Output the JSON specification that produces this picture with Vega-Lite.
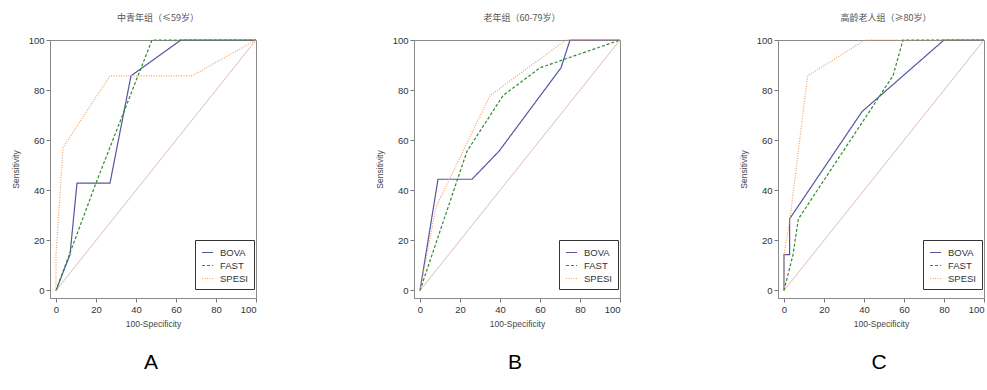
{
  "$schema": "https://vega.github.io/schema/vega-lite/v6.json",
  "padding": {"left": 10, "top": 13, "right": 0, "bottom": 0},
  "background": "white",
  "config": {
    "font": "Liberation Sans",
    "view": {"stroke": "#8a8a8a", "strokeWidth": 1},
    "axis": {
      "grid": false,
      "domainColor": "#8a8a8a",
      "tickColor": "#777777",
      "tickSize": 4,
      "labelFont": "Liberation Sans",
      "labelFontSize": 9.5,
      "labelColor": "#333333",
      "labelPadding": 2,
      "labelOverlap": false,
      "titleFont": "Liberation Sans",
      "titleFontSize": 8.5,
      "titleFontWeight": "normal",
      "titleColor": "#444444"
    },
    "legend": {
      "orient": "none",
      "legendX": 145,
      "legendY": 200,
      "strokeColor": "#333333",
      "padding": 6,
      "symbolType": "stroke",
      "symbolSize": 121,
      "symbolStrokeWidth": 1.2,
      "labelFont": "Liberation Sans",
      "labelFontSize": 9.5,
      "labelColor": "#333333",
      "labelOffset": 6,
      "rowPadding": 2,
      "title": null
    },
    "title": {"font": "Noto Sans CJK SC", "fontSize": 9, "fontWeight": "normal", "color": "#555555", "anchor": "middle", "frame": "group", "dx": 5, "offset": 12}
  },
  "datasets": {
    "diag": [{"fpr": 0, "sens": 0}, {"fpr": 100, "sens": 100}],
    "roc": [
      {"panel": "A", "method": "BOVA", "ord": 1, "fpr": 0, "sens": 0},
      {"panel": "A", "method": "BOVA", "ord": 2, "fpr": 7, "sens": 14.3},
      {"panel": "A", "method": "BOVA", "ord": 3, "fpr": 10.5, "sens": 42.9},
      {"panel": "A", "method": "BOVA", "ord": 4, "fpr": 27, "sens": 42.9},
      {"panel": "A", "method": "BOVA", "ord": 5, "fpr": 37.5, "sens": 85.7},
      {"panel": "A", "method": "BOVA", "ord": 6, "fpr": 62.5, "sens": 100},
      {"panel": "A", "method": "BOVA", "ord": 7, "fpr": 100, "sens": 100},
      {"panel": "A", "method": "FAST", "ord": 1, "fpr": 0, "sens": 0},
      {"panel": "A", "method": "FAST", "ord": 2, "fpr": 20, "sens": 42.9},
      {"panel": "A", "method": "FAST", "ord": 3, "fpr": 48, "sens": 100},
      {"panel": "A", "method": "FAST", "ord": 4, "fpr": 100, "sens": 100},
      {"panel": "A", "method": "SPESI", "ord": 1, "fpr": 0, "sens": 0},
      {"panel": "A", "method": "SPESI", "ord": 2, "fpr": 0, "sens": 14.3},
      {"panel": "A", "method": "SPESI", "ord": 3, "fpr": 3.5, "sens": 57.1},
      {"panel": "A", "method": "SPESI", "ord": 4, "fpr": 27, "sens": 85.7},
      {"panel": "A", "method": "SPESI", "ord": 5, "fpr": 68, "sens": 85.7},
      {"panel": "A", "method": "SPESI", "ord": 6, "fpr": 100, "sens": 100},
      {"panel": "B", "method": "BOVA", "ord": 1, "fpr": 0, "sens": 0},
      {"panel": "B", "method": "BOVA", "ord": 2, "fpr": 9, "sens": 44.4},
      {"panel": "B", "method": "BOVA", "ord": 3, "fpr": 26, "sens": 44.4},
      {"panel": "B", "method": "BOVA", "ord": 4, "fpr": 39.5, "sens": 55.6},
      {"panel": "B", "method": "BOVA", "ord": 5, "fpr": 70.5, "sens": 88.9},
      {"panel": "B", "method": "BOVA", "ord": 6, "fpr": 75, "sens": 100},
      {"panel": "B", "method": "BOVA", "ord": 7, "fpr": 100, "sens": 100},
      {"panel": "B", "method": "FAST", "ord": 1, "fpr": 0, "sens": 0},
      {"panel": "B", "method": "FAST", "ord": 2, "fpr": 23.5, "sens": 55.6},
      {"panel": "B", "method": "FAST", "ord": 3, "fpr": 41.5, "sens": 77.8},
      {"panel": "B", "method": "FAST", "ord": 4, "fpr": 60, "sens": 88.9},
      {"panel": "B", "method": "FAST", "ord": 5, "fpr": 100, "sens": 100},
      {"panel": "B", "method": "SPESI", "ord": 1, "fpr": 0, "sens": 0},
      {"panel": "B", "method": "SPESI", "ord": 2, "fpr": 8, "sens": 33.3},
      {"panel": "B", "method": "SPESI", "ord": 3, "fpr": 35, "sens": 77.8},
      {"panel": "B", "method": "SPESI", "ord": 4, "fpr": 73, "sens": 100},
      {"panel": "B", "method": "SPESI", "ord": 5, "fpr": 100, "sens": 100},
      {"panel": "C", "method": "BOVA", "ord": 1, "fpr": 0, "sens": 0},
      {"panel": "C", "method": "BOVA", "ord": 2, "fpr": 0, "sens": 14.3},
      {"panel": "C", "method": "BOVA", "ord": 3, "fpr": 2.8, "sens": 14.3},
      {"panel": "C", "method": "BOVA", "ord": 4, "fpr": 2.8, "sens": 28.6},
      {"panel": "C", "method": "BOVA", "ord": 5, "fpr": 39, "sens": 71.4},
      {"panel": "C", "method": "BOVA", "ord": 6, "fpr": 80, "sens": 100},
      {"panel": "C", "method": "BOVA", "ord": 7, "fpr": 100, "sens": 100},
      {"panel": "C", "method": "FAST", "ord": 1, "fpr": 0, "sens": 0},
      {"panel": "C", "method": "FAST", "ord": 2, "fpr": 4.5, "sens": 14.3},
      {"panel": "C", "method": "FAST", "ord": 3, "fpr": 7.2, "sens": 28.6},
      {"panel": "C", "method": "FAST", "ord": 4, "fpr": 54.5, "sens": 85.7},
      {"panel": "C", "method": "FAST", "ord": 5, "fpr": 59.5, "sens": 100},
      {"panel": "C", "method": "FAST", "ord": 6, "fpr": 100, "sens": 100},
      {"panel": "C", "method": "SPESI", "ord": 1, "fpr": 0, "sens": 0},
      {"panel": "C", "method": "SPESI", "ord": 2, "fpr": 0, "sens": 14.3},
      {"panel": "C", "method": "SPESI", "ord": 3, "fpr": 3, "sens": 28.6},
      {"panel": "C", "method": "SPESI", "ord": 4, "fpr": 11.8, "sens": 85.7},
      {"panel": "C", "method": "SPESI", "ord": 5, "fpr": 40.5, "sens": 100},
      {"panel": "C", "method": "SPESI", "ord": 6, "fpr": 100, "sens": 100}
    ]
  },
  "spacing": 115,
  "resolve": {
    "scale": {"color": "independent", "strokeDash": "independent", "x": "independent", "y": "independent"},
    "legend": {"color": "independent", "strokeDash": "independent"}
  },
  "hconcat": [
    {
      "title": {"text": "A", "orient": "bottom", "font": "Liberation Sans", "fontSize": 21, "color": "#000000", "offset": 23, "dx": 101},
      "resolve": {"scale": {"color": "independent", "strokeDash": "independent"}, "legend": {"color": "independent", "strokeDash": "independent"}},
      "vconcat": [
        {
          "title": {"text": "中青年组（≤59岁）"},
          "width": 206,
          "height": 258,
          "layer": [
            {
              "data": {"name": "diag"},
              "mark": {"type": "line", "color": "#dcbcbc", "strokeWidth": 1},
              "encoding": {
                "x": {"field": "fpr", "type": "quantitative", "scale": {"domain": [-3, 100], "nice": false, "zero": false}, "axis": {"title": "100-Specificity", "values": [0,5,10,15,20,25,30,35,40,45,50,55,60,65,70,75,80,85,90,95,100], "labelExpr": "datum.value % 20 === 0 ? datum.label : ''", "titlePadding": 6}},
                "y": {"field": "sens", "type": "quantitative", "scale": {"domain": [-3, 100], "nice": false, "zero": false}, "axis": {"title": "Sensitivity", "values": [0,5,10,15,20,25,30,35,40,45,50,55,60,65,70,75,80,85,90,95,100], "labelExpr": "datum.value % 20 === 0 ? datum.label : ''", "titlePadding": 8}}
              }
            },
            {
              "data": {"name": "roc"},
              "transform": [{"filter": "datum.panel === 'A'"}],
              "mark": {"type": "line", "strokeWidth": 1.2},
              "encoding": {
                "x": {"field": "fpr", "type": "quantitative"},
                "y": {"field": "sens", "type": "quantitative"},
                "order": {"field": "ord", "type": "quantitative"},
                "color": {"field": "method", "type": "nominal", "scale": {"domain": ["BOVA", "FAST", "SPESI"], "range": ["#5656a0", "#2e8b2e", "#f5a05a"]}},
                "strokeDash": {"field": "method", "type": "nominal", "scale": {"domain": ["BOVA", "FAST", "SPESI"], "range": [[1, 0], [3, 2], [1, 1.5]]}}
              }
            }
          ]
        }
      ]
    },
    {
      "title": {"text": "B", "orient": "bottom", "font": "Liberation Sans", "fontSize": 21, "color": "#000000", "offset": 23, "dx": 101},
      "resolve": {"scale": {"color": "independent", "strokeDash": "independent"}, "legend": {"color": "independent", "strokeDash": "independent"}},
      "vconcat": [
        {
          "title": {"text": "老年组（60-79岁）"},
          "width": 206,
          "height": 258,
          "layer": [
            {
              "data": {"name": "diag"},
              "mark": {"type": "line", "color": "#dcbcbc", "strokeWidth": 1},
              "encoding": {
                "x": {"field": "fpr", "type": "quantitative", "scale": {"domain": [-3, 100], "nice": false, "zero": false}, "axis": {"title": "100-Specificity", "values": [0,5,10,15,20,25,30,35,40,45,50,55,60,65,70,75,80,85,90,95,100], "labelExpr": "datum.value % 20 === 0 ? datum.label : ''", "titlePadding": 6}},
                "y": {"field": "sens", "type": "quantitative", "scale": {"domain": [-3, 100], "nice": false, "zero": false}, "axis": {"title": "Sensitivity", "values": [0,5,10,15,20,25,30,35,40,45,50,55,60,65,70,75,80,85,90,95,100], "labelExpr": "datum.value % 20 === 0 ? datum.label : ''", "titlePadding": 8}}
              }
            },
            {
              "data": {"name": "roc"},
              "transform": [{"filter": "datum.panel === 'B'"}],
              "mark": {"type": "line", "strokeWidth": 1.2},
              "encoding": {
                "x": {"field": "fpr", "type": "quantitative"},
                "y": {"field": "sens", "type": "quantitative"},
                "order": {"field": "ord", "type": "quantitative"},
                "color": {"field": "method", "type": "nominal", "scale": {"domain": ["BOVA", "FAST", "SPESI"], "range": ["#5656a0", "#2e8b2e", "#f5a05a"]}},
                "strokeDash": {"field": "method", "type": "nominal", "scale": {"domain": ["BOVA", "FAST", "SPESI"], "range": [[1, 0], [3, 2], [1, 1.5]]}}
              }
            }
          ]
        }
      ]
    },
    {
      "title": {"text": "C", "orient": "bottom", "font": "Liberation Sans", "fontSize": 21, "color": "#000000", "offset": 23, "dx": 101},
      "resolve": {"scale": {"color": "independent", "strokeDash": "independent"}, "legend": {"color": "independent", "strokeDash": "independent"}},
      "vconcat": [
        {
          "title": {"text": "高龄老人组（≥80岁）"},
          "width": 206,
          "height": 258,
          "layer": [
            {
              "data": {"name": "diag"},
              "mark": {"type": "line", "color": "#dcbcbc", "strokeWidth": 1},
              "encoding": {
                "x": {"field": "fpr", "type": "quantitative", "scale": {"domain": [-3, 100], "nice": false, "zero": false}, "axis": {"title": "100-Specificity", "values": [0,5,10,15,20,25,30,35,40,45,50,55,60,65,70,75,80,85,90,95,100], "labelExpr": "datum.value % 20 === 0 ? datum.label : ''", "titlePadding": 6}},
                "y": {"field": "sens", "type": "quantitative", "scale": {"domain": [-3, 100], "nice": false, "zero": false}, "axis": {"title": "Sensitivity", "values": [0,5,10,15,20,25,30,35,40,45,50,55,60,65,70,75,80,85,90,95,100], "labelExpr": "datum.value % 20 === 0 ? datum.label : ''", "titlePadding": 8}}
              }
            },
            {
              "data": {"name": "roc"},
              "transform": [{"filter": "datum.panel === 'C'"}],
              "mark": {"type": "line", "strokeWidth": 1.2},
              "encoding": {
                "x": {"field": "fpr", "type": "quantitative"},
                "y": {"field": "sens", "type": "quantitative"},
                "order": {"field": "ord", "type": "quantitative"},
                "color": {"field": "method", "type": "nominal", "scale": {"domain": ["BOVA", "FAST", "SPESI"], "range": ["#5656a0", "#2e8b2e", "#f5a05a"]}},
                "strokeDash": {"field": "method", "type": "nominal", "scale": {"domain": ["BOVA", "FAST", "SPESI"], "range": [[1, 0], [3, 2], [1, 1.5]]}}
              }
            }
          ]
        }
      ]
    }
  ]
}
